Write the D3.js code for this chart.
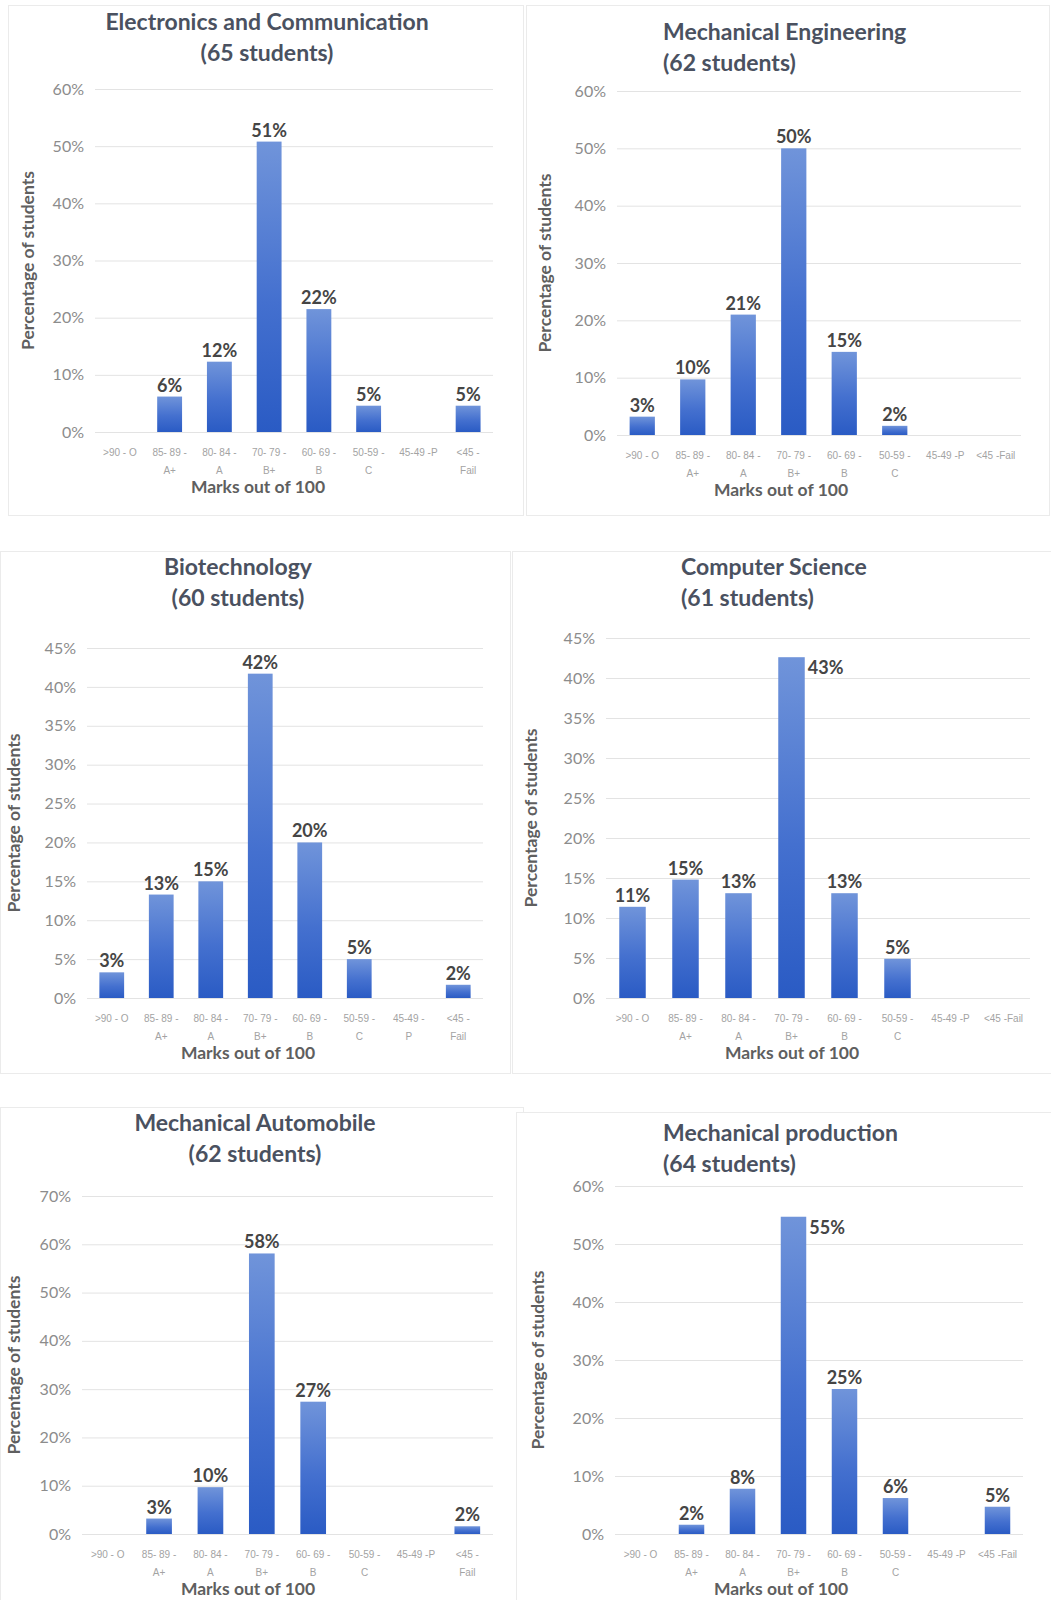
<!DOCTYPE html>
<html>
<head>
<meta charset="utf-8">
<script src="https://cdnjs.cloudflare.com/ajax/libs/d3/7.8.5/d3.min.js"></script>
<style>
body {
    margin: 0;
    background: white;
    font-family: Lato, "Open Sans", sans-serif;
}
.grid line { stroke: #e3e3e3; }
.ylab text { fill: #8c8c8c; font-size: 16px; }
.xtick { fill: #a3a3a3; font-size: 10px; }
.title { fill: #4a5160; font-size: 23px; font-weight: bold; }
.axtitle { fill: #5f5f5f; font-size: 17.5px; font-weight: bold; }
.dlabel { fill: #454545; font-size: 18px; font-weight: bold; }
</style>
</head>
<body>
<svg id="canvas" width="1051" height="1600"></svg>
<script>
// grade bands (x categories)
const categories = [">90 - O", "85- 89 - A+", "80- 84 - A", "70- 79 - B+", "60- 69 - B", "50-59 - C", "45-49 - P", "<45 - Fail"];

// tick label lines, three different wrappings as in the original charts
const tickLinesA = [[">90 - O"], ["85- 89 -", "A+"], ["80- 84 -", "A"], ["70- 79 -", "B+"], ["60- 69 -", "B"], ["50-59 -", "C"], ["45-49 -P"], ["<45 -", "Fail"]];
const tickLinesB = [[">90 - O"], ["85- 89 -", "A+"], ["80- 84 -", "A"], ["70- 79 -", "B+"], ["60- 69 -", "B"], ["50-59 -", "C"], ["45-49 -P"], ["<45 -Fail"]];
const tickLinesC = [[">90 - O"], ["85- 89 -", "A+"], ["80- 84 -", "A"], ["70- 79 -", "B+"], ["60- 69 -", "B"], ["50-59 -", "C"], ["45-49 -", "P"], ["<45 -", "Fail"]];

// percentage of students per band
const ecValues  = [0, 6.2, 12.3, 50.8, 21.5, 4.6, 0, 4.6];
const meValues  = [3.2, 9.7, 21.0, 50.0, 14.5, 1.6, 0, 0];
const bioValues = [3.3, 13.3, 15.0, 41.7, 20.0, 5.0, 0, 1.7];
const csValues  = [11.4, 14.8, 13.1, 42.6, 13.1, 4.9, 0, 0];
const maValues  = [0, 3.2, 9.7, 58.1, 27.4, 0, 0, 1.6];
const mpValues  = [0, 1.6, 7.8, 54.7, 25.0, 6.2, 0, 4.7];

const titles = [
    ["Electronics and Communication", "(65 students)"],
    ["Mechanical Engineering", "(62 students)"],
    ["Biotechnology", "(60 students)"],
    ["Computer Science", "(61 students)"],
    ["Mechanical Automobile", "(62 students)"],
    ["Mechanical production", "(64 students)"]
];
const yMax  = [60, 60, 45, 45, 70, 60];
const yStep = [10, 10, 5, 5, 10, 10];

// layout of each panel
const panels = [
    {box: [8, 5, 515, 510],    title: {x: 267, y: 22, anchor: "middle"}, x0: 95,  x1: 493,  yTop: 89,   y0: 432,  yTitleX: 28,  xTitleX: 258, sideLabel: false, values: ecValues,  ticks: tickLinesA},
    {box: [526, 5, 523, 510],  title: {x: 663, y: 32, anchor: "start"},  x0: 617, x1: 1021, yTop: 91,   y0: 435,  yTitleX: 545, xTitleX: 781, sideLabel: false, values: meValues,  ticks: tickLinesB},
    {box: [0, 551, 510, 522],  title: {x: 238, y: 567, anchor: "middle"}, x0: 87, x1: 483,  yTop: 648,  y0: 998,  yTitleX: 14,  xTitleX: 248, sideLabel: false, values: bioValues, ticks: tickLinesC},
    {box: [512, 551, 539, 522], title: {x: 681, y: 567, anchor: "start"}, x0: 606, x1: 1030, yTop: 638, y0: 998,  yTitleX: 531, xTitleX: 792, sideLabel: true,  values: csValues,  ticks: tickLinesB},
    {box: [0, 1107, 523, 493], title: {x: 255, y: 1123, anchor: "middle"}, x0: 82, x1: 493,  yTop: 1196, y0: 1534, yTitleX: 14,  xTitleX: 248, sideLabel: false, values: maValues,  ticks: tickLinesA},
    {box: [516, 1112, 535, 488], title: {x: 663, y: 1133, anchor: "start"}, x0: 615, x1: 1023, yTop: 1186, y0: 1534, yTitleX: 538, xTitleX: 781, sideLabel: true, values: mpValues, ticks: tickLinesB}
];

const svg = d3.select("#canvas");

const defs = svg.append("defs");
const grad = defs.append("linearGradient")
    .attr("id", "barGrad")
    .attr("x1", 0).attr("y1", 0).attr("x2", 0).attr("y2", 1);
grad.append("stop").attr("offset", "0%").attr("stop-color", "#7094da");
grad.append("stop").attr("offset", "55%").attr("stop-color", "#4470cf");
grad.append("stop").attr("offset", "100%").attr("stop-color", "#2a5bc4");

panels.forEach((p, k) => {
    const g = svg.append("g");

    // panel frame
    g.append("rect")
        .attr("x", p.box[0] + 0.5).attr("y", p.box[1] + 0.5)
        .attr("width", p.box[2]).attr("height", p.box[3])
        .attr("fill", "white").attr("stroke", "#ebebeb");

    // title, two lines
    const t = g.append("text").attr("class", "title").attr("text-anchor", p.title.anchor);
    titles[k].forEach((line, i) => {
        t.append("tspan").attr("x", p.title.x).attr("y", p.title.y + 8 + i * 31).text(line);
    });

    const x = d3.scaleBand()
        .domain(categories)
        .range([p.x0, p.x1])
        .paddingInner(0.5)
        .paddingOuter(0.25);

    const y = d3.scaleLinear()
        .domain([0, yMax[k]])
        .range([p.y0, p.yTop]);

    const tickVals = d3.range(0, yMax[k] + 0.001, yStep[k]);

    // gridlines + y tick labels
    const yAxis = g.append("g")
        .attr("class", "grid ylab")
        .attr("transform", `translate(${p.x0},0)`)
        .call(d3.axisLeft(y)
            .tickValues(tickVals)
            .tickSize(-(p.x1 - p.x0))
            .tickPadding(11)
            .tickFormat(d => d + "%"));
    yAxis.select(".domain").remove();
    yAxis.selectAll("text").attr("font-family", "Lato, sans-serif");
    yAxis.selectAll(".tick line").attr("stroke", (d) => d === 0 ? "#d6d6d6" : "#e6e6e6");

    // x tick labels
    const xAxis = g.append("g")
        .attr("transform", `translate(0,${p.y0})`)
        .call(d3.axisBottom(x).tickSize(0).tickFormat(""));
    xAxis.select(".domain").remove();
    xAxis.selectAll(".tick").each(function(d, i) {
        const tx = d3.select(this).append("text")
            .attr("class", "xtick")
            .attr("text-anchor", "middle");
        p.ticks[i].forEach((line, j) => {
            tx.append("tspan").attr("x", 0).attr("y", 24 + j * 18).text(line);
        });
    });

    // bars
    const data = categories.map((c, i) => ({cat: c, v: p.values[i]}));
    g.selectAll("rect.bar")
        .data(data.filter(d => d.v > 0))
        .join("rect")
        .attr("class", "bar")
        .attr("x", d => x(d.cat))
        .attr("width", x.bandwidth())
        .attr("y", d => y(d.v))
        .attr("height", d => p.y0 - y(d.v))
        .attr("fill", "url(#barGrad)");

    // data labels (largest bar label sits beside the bar in two panels)
    const maxV = d3.max(p.values);
    const side = d => p.sideLabel && d.v === maxV;
    g.selectAll("text.dlabel")
        .data(data.filter(d => d.v > 0))
        .join("text")
        .attr("class", "dlabel")
        .attr("text-anchor", d => side(d) ? "start" : "middle")
        .attr("x", d => side(d) ? x(d.cat) + x.bandwidth() + 3 : x(d.cat) + x.bandwidth() / 2)
        .attr("y", d => side(d) ? y(d.v) + 17 : y(d.v) - 5)
        .text(d => Math.round(d.v) + "%");

    // axis titles
    g.append("text")
        .attr("class", "axtitle")
        .attr("text-anchor", "middle")
        .attr("transform", `translate(${p.yTitleX + 6},${(p.yTop + p.y0) / 2}) rotate(-90)`)
        .text("Percentage of students");

    g.append("text")
        .attr("class", "axtitle")
        .attr("text-anchor", "middle")
        .attr("x", p.xTitleX)
        .attr("y", p.y0 + 61)
        .text("Marks out of 100");
});
</script>
</body>
</html>
